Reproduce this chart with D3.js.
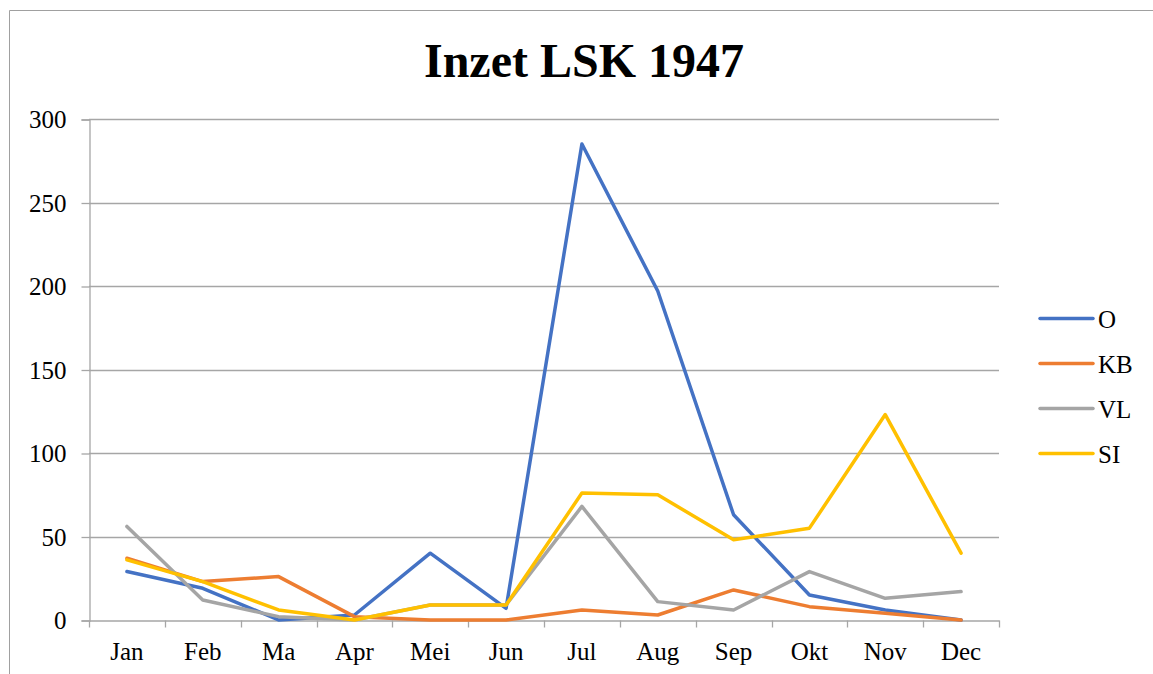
<!DOCTYPE html>
<html>
<head>
<meta charset="utf-8">
<script src="https://cdn.jsdelivr.net/npm/d3@7"></script>
<style>
  body { margin: 0; background: #fff; }
  text { font-family: "Liberation Serif", "Times New Roman", serif; fill: #000; }
</style>
</head>
<body>
<svg id="chart" width="1153" height="674"></svg>
<script>
var months = ["Jan", "Feb", "Ma", "Apr", "Mei", "Jun", "Jul", "Aug", "Sep", "Okt", "Nov", "Dec"];
var seriesNames = ["O", "KB", "VL", "SI"];
var colors = ["#4472c4", "#ed7d31", "#a5a5a5", "#ffc000"];
var valuesO  = [29, 19, 0, 3, 40, 7, 285, 197, 63, 15, 6, 0];
var valuesKB = [37, 23, 26, 2, 0, 0, 6, 3, 18, 8, 4, 0];
var valuesVL = [56, 12, 2, 0, 9, 9, 68, 11, 6, 29, 13, 17];
var valuesSI = [36, 23, 6, 0, 9, 9, 76, 75, 48, 55, 123, 40];
var yTicks = [0, 50, 100, 150, 200, 250, 300];

var width = 1153,
    height = 674;

var margin = {top: 119, right: 154, bottom: 54, left: 89};

var svg = d3.select("#chart");

// outer chart border (only top and left visible in the crop)
svg.append("path")
    .attr("d", "M9.5,674V10.5H1153")
    .attr("fill", "none")
    .attr("stroke", "#a0a0a0")
    .attr("stroke-width", 1);

svg.append("text")
    .attr("x", 584)
    .attr("y", 77)
    .attr("text-anchor", "middle")
    .style("font-size", "48px")
    .style("font-weight", "bold")
    .text("Inzet LSK 1947");

var x = d3.scaleBand()
    .domain(months)
    .range([margin.left, width - margin.right]);

var y = d3.scaleLinear()
    .domain([0, 300])
    .range([height - margin.bottom, margin.top]);

// gridlines
svg.append("g")
  .selectAll("line")
  .data(yTicks.slice(1))
  .enter().append("line")
    .attr("x1", margin.left)
    .attr("x2", width - margin.right)
    .attr("y1", function(d) { return Math.round(y(d)) + 0.5; })
    .attr("y2", function(d) { return Math.round(y(d)) + 0.5; })
    .attr("stroke", "#a6a6a6")
    .attr("stroke-width", 1.3);

var yAxis = d3.axisLeft(y)
    .tickValues(yTicks)
    .tickSize(8)
    .tickPadding(15);

var gy = svg.append("g")
    .attr("transform", "translate(" + (margin.left + 0.5) + ",0.5)")
    .call(yAxis);
gy.selectAll("text").style("font-size", "25px");

var xAxis = d3.axisBottom(x)
    .tickSize(0)
    .tickPadding(22);

var gx = svg.append("g")
    .attr("transform", "translate(0," + (Math.round(y(0)) + 0.5) + ")")
    .call(xAxis);
gx.selectAll("text").style("font-size", "25px");

// tick marks between categories
gx.selectAll(".sep")
  .data(d3.range(months.length + 1))
  .enter().append("line")
    .attr("class", "sep")
    .attr("x1", function(i) { return Math.round(margin.left + i * x.step()) + 0.5; })
    .attr("x2", function(i) { return Math.round(margin.left + i * x.step()) + 0.5; })
    .attr("y1", 0)
    .attr("y2", 7)
    .attr("stroke", "#a6a6a6")
    .attr("stroke-width", 1.3);

svg.selectAll(".domain, .tick line")
    .attr("stroke", "#a6a6a6")
    .attr("stroke-width", 1.3);

var line = d3.line()
    .x(function(d, i) { return x(months[i]) + x.bandwidth() / 2; })
    .y(function(d) { return y(d); });

var allSeries = [valuesO, valuesKB, valuesVL, valuesSI];

svg.append("g")
  .selectAll("path")
  .data(allSeries)
  .enter().append("path")
    .attr("d", line)
    .attr("fill", "none")
    .attr("stroke", function(d, i) { return colors[i]; })
    .attr("stroke-width", 3.5)
    .attr("stroke-linejoin", "round")
    .attr("stroke-linecap", "round");

// legend
var legend = svg.append("g")
  .selectAll("g")
  .data(seriesNames)
  .enter().append("g")
    .attr("transform", function(d, i) { return "translate(1040," + (318.5 + i * 45) + ")"; });

legend.append("line")
    .attr("x1", 0)
    .attr("x2", 53)
    .attr("stroke", function(d, i) { return colors[i]; })
    .attr("stroke-width", 3.5)
    .attr("stroke-linecap", "round");

legend.append("text")
    .attr("x", 58)
    .attr("y", 9)
    .style("font-size", "25px")
    .text(function(d) { return d; });
</script>
</body>
</html>
